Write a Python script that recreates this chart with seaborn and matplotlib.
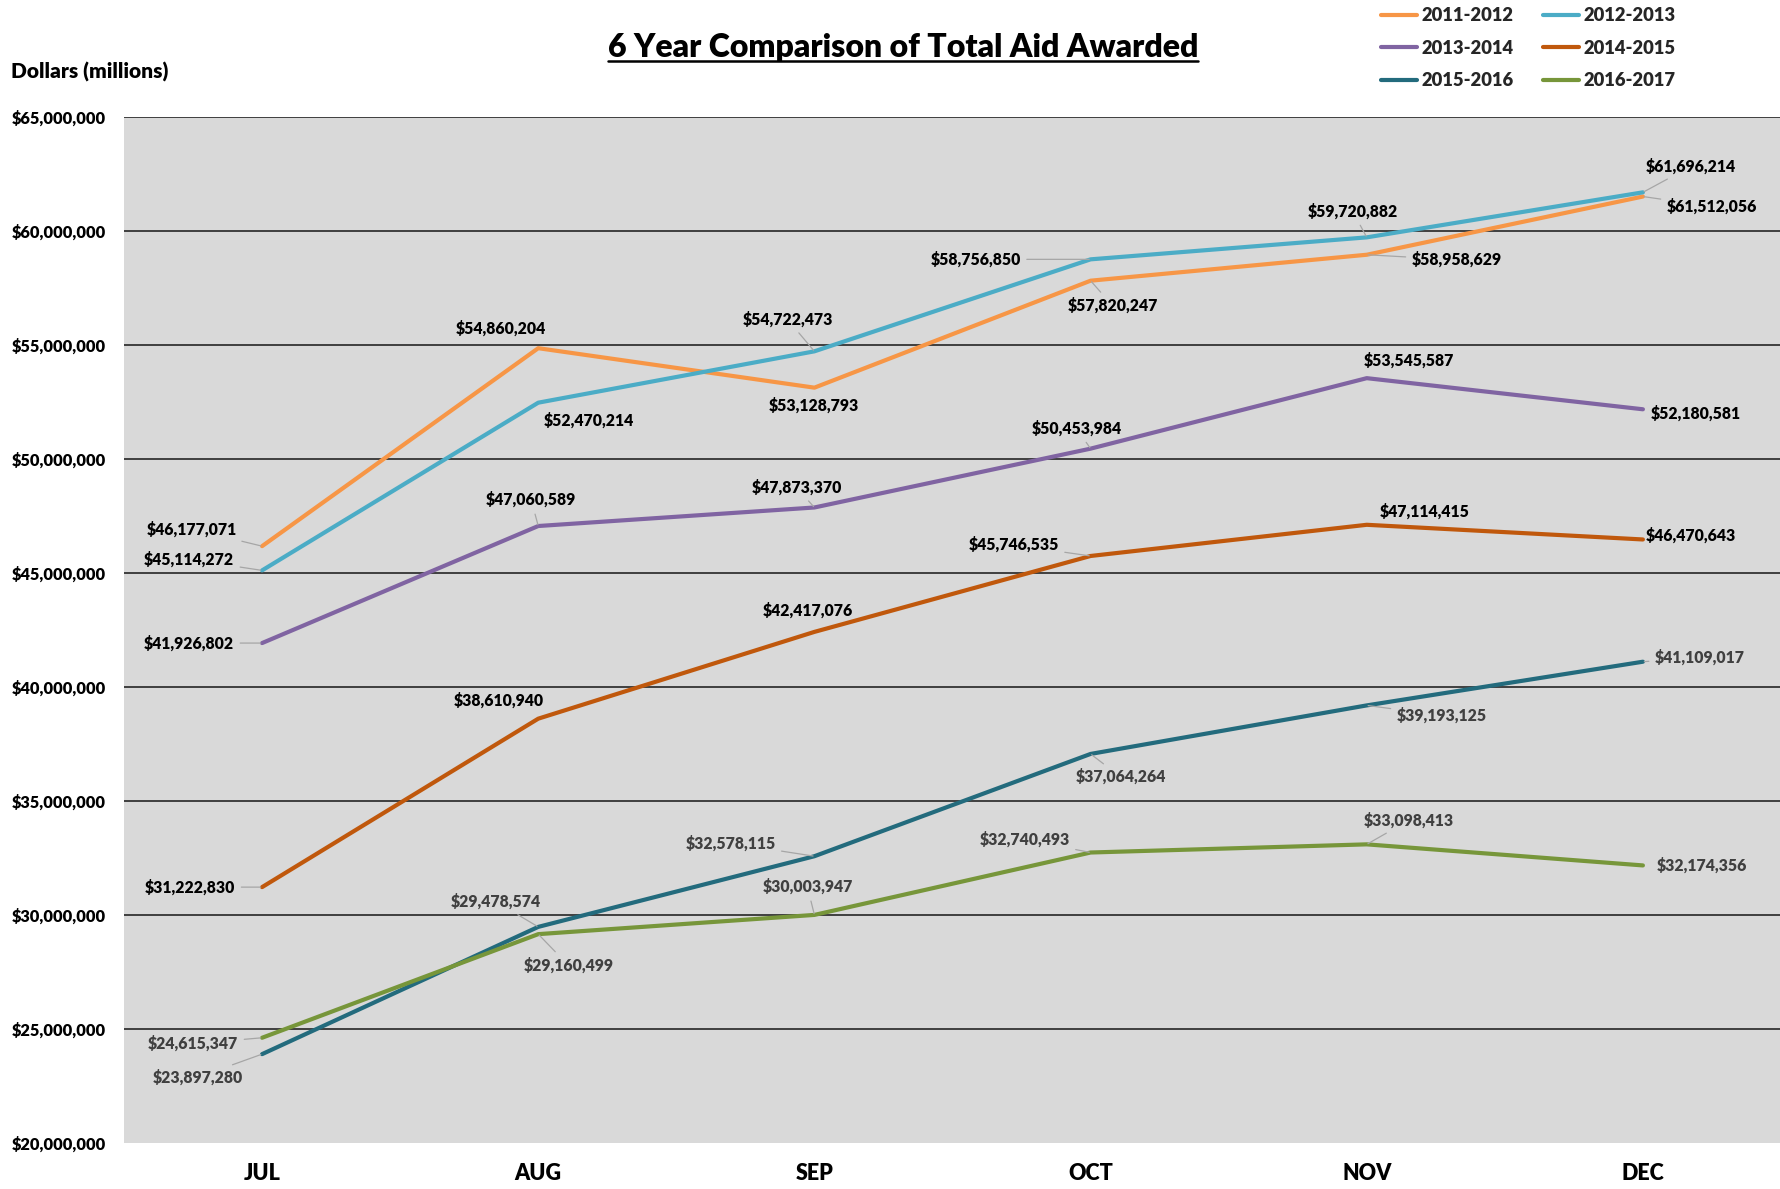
import matplotlib
matplotlib.use("Agg")
import matplotlib.pyplot as plt
from matplotlib.lines import Line2D
from matplotlib.ticker import FuncFormatter
import seaborn as sns
import pandas as pd

# ---- data -------------------------------------------------------------
months = ["JUL", "AUG", "SEP", "OCT", "NOV", "DEC"]
seasons = ["2011-2012", "2012-2013", "2013-2014", "2014-2015", "2015-2016", "2016-2017"]

aid_2011_2012 = [46177071, 54860204, 53128793, 57820247, 58958629, 61512056]
aid_2012_2013 = [45114272, 52470214, 54722473, 58756850, 59720882, 61696214]
aid_2013_2014 = [41926802, 47060589, 47873370, 50453984, 53545587, 52180581]
aid_2014_2015 = [31222830, 38610940, 42417076, 45746535, 47114415, 46470643]
aid_2015_2016 = [23897280, 29478574, 32578115, 37064264, 39193125, 41109017]
aid_2016_2017 = [24615347, 29160499, 30003947, 32740493, 33098413, 32174356]

y_ticks = [20000000, 25000000, 30000000, 35000000, 40000000,
           45000000, 50000000, 55000000, 60000000, 65000000]

title_text = "6 Year Comparison of Total Aid Awarded"
y_caption = "Dollars (millions)"

# ---- styling ----------------------------------------------------------
WEIGHT = "heavy"
palette = {
    "2011-2012": "#F79646",
    "2012-2013": "#4BACC6",
    "2013-2014": "#8064A2",
    "2014-2015": "#C0580C",
    "2015-2016": "#236B7D",
    "2016-2017": "#77963A",
}
label_colors = {
    "2011-2012": "#000000", "2012-2013": "#000000", "2013-2014": "#000000",
    "2014-2015": "#000000", "2015-2016": "#404040", "2016-2017": "#404040",
}
# value-label offsets in pixels (dx, dy) from each point
label_offsets = {
    "2011-2012": [(-70, 17), (-37, 20), (-1, -18), (22, -25), (90, -5), (69, -10)],
    "2012-2013": [(-73, 11), (51, -18), (-27, 32), (-115, 0), (-14, 26), (48, 26)],
    "2013-2014": [(-73, 0), (-7, 26), (-18, 20), (-14, 20), (42, 18), (53, -4)],
    "2014-2015": [(-72, 0), (-39, 18), (-7, 21), (-77, 11), (58, 13), (48, 4)],
    "2015-2016": [(-64, -23), (-42, 25), (-84, 13), (30, -23), (75, -10), (57, 4)],
    "2016-2017": [(-69, -6), (30, -31), (-7, 28), (-66, 13), (42, 24), (59, 0)],
}
no_leader = {
    ("2011-2012", 1), ("2011-2012", 2), ("2012-2013", 1),
    ("2013-2014", 4), ("2013-2014", 5),
    ("2014-2015", 1), ("2014-2015", 2), ("2014-2015", 4), ("2014-2015", 5),
    ("2016-2017", 5),
}

series = {
    "2011-2012": aid_2011_2012, "2012-2013": aid_2012_2013,
    "2013-2014": aid_2013_2014, "2014-2015": aid_2014_2015,
    "2015-2016": aid_2015_2016, "2016-2017": aid_2016_2017,
}
rows = []
for s in seasons:
    for m, v in zip(months, series[s]):
        rows.append({"Month": m, "Season": s, "Aid": v})
df = pd.DataFrame(rows)

sns.set_style("white")
plt.rcParams["font.family"] = ["Lato", "DejaVu Sans"]
plt.rcParams["font.weight"] = WEIGHT

W, H = 1781, 1189
fig = plt.figure(figsize=(W / 100, H / 100), dpi=100)
fig.patch.set_facecolor("white")
ax = fig.add_axes([124 / W, 46 / H, 1 - 124 / W, (1143 - 117) / H])
ax.set_facecolor("#D9D9D9")

sns.lineplot(data=df, x="Month", y="Aid", hue="Season", hue_order=seasons,
             palette=palette, linewidth=3.0, ax=ax, legend=False, sort=False,
             zorder=3)

ax.set_xlim(-0.5, 5.5)
ax.set_ylim(y_ticks[0], y_ticks[-1])
ax.set_yticks(y_ticks)
ax.yaxis.set_major_formatter(FuncFormatter(lambda v, _: f"${v:,.0f}"))
ax.set_xlabel("")
ax.set_ylabel("")
for sp in ax.spines.values():
    sp.set_visible(False)

ax.yaxis.grid(True, color="#262626", linewidth=1.2, zorder=1)
ax.xaxis.grid(False)
ax.set_axisbelow(True)
ax.get_ygridlines()[0].set_visible(False)

ax.tick_params(axis="y", length=0, pad=13, labelsize=11.8, labelcolor="black")
ax.tick_params(axis="x", length=0, pad=14.5, labelsize=15.5, labelcolor="black")
for lbl in ax.get_xticklabels() + ax.get_yticklabels():
    lbl.set_fontweight(WEIGHT)

# value labels with leader lines
for s in seasons:
    for j, v in enumerate(series[s]):
        dx, dy = label_offsets[s][j]
        arrow = None
        if (s, j) not in no_leader:
            arrow = dict(arrowstyle="-", color="#A6A6A6", lw=0.9,
                         shrinkA=2, shrinkB=1)
        ax.annotate(f"${v:,.0f}", xy=(j, v), xytext=(dx, dy),
                    textcoords="offset pixels", ha="center", va="center",
                    fontsize=11.3, fontweight=WEIGHT, color=label_colors[s],
                    arrowprops=arrow, zorder=5, annotation_clip=False)

# legend
handles = [Line2D([0], [0], color=palette[s], lw=3.0) for s in seasons]
order = [0, 2, 4, 1, 3, 5]
fig.legend([handles[i] for i in order], [seasons[i] for i in order],
           loc="upper left", bbox_to_anchor=(1374 / W, 1 - 0 / H), ncol=2,
           frameon=False, handlelength=1.95, handletextpad=0.25,
           columnspacing=1.6, labelspacing=0.84, borderaxespad=0.0,
           prop={"weight": WEIGHT, "size": 13.2})

# title with underline
t = fig.text(903 / W, 1 - 48 / H, title_text, ha="center", va="center",
             fontsize=23, fontweight=WEIGHT, color="black")
fig.text(11 / W, 1 - 72 / H, y_caption, ha="left", va="center",
         fontsize=15, fontweight=WEIGHT, color="black")

fig.canvas.draw()
bb = t.get_window_extent(fig.canvas.get_renderer())
uy = bb.y0 + 2
fig.add_artist(Line2D([bb.x0 / W, bb.x1 / W], [uy / H, uy / H],
                      transform=fig.transFigure, color="black", lw=1.8))

fig.savefig("out.png", dpi=100, facecolor="white")
